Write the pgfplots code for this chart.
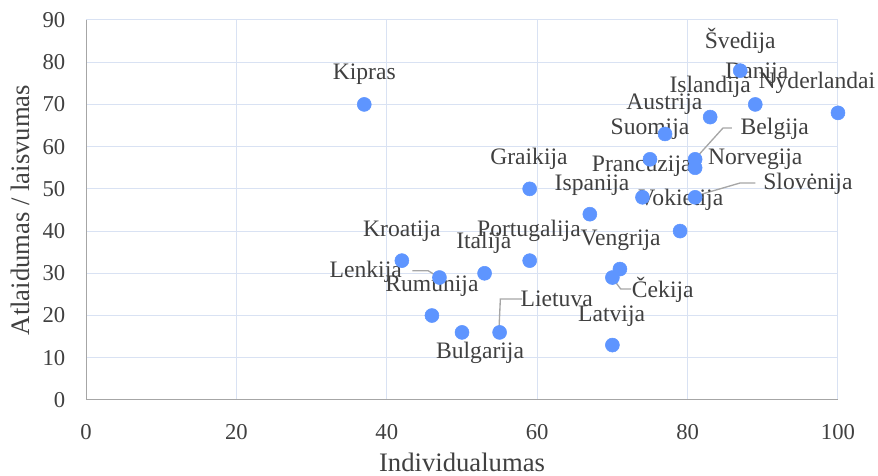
\documentclass[border=0pt]{standalone}
\usepackage{pgfplots}
\pgfplotsset{compat=1.18}
\usepackage{fontspec}
\setmainfont{Liberation Serif}
\definecolor{pt}{HTML}{5E95FF}
\definecolor{gridc}{HTML}{D9E2F3}
\definecolor{txt}{HTML}{404040}
\definecolor{lead}{HTML}{A6A6A6}
\begin{document}
\begin{tikzpicture}
\begin{axis}[
  scale only axis, width=564pt, height=285pt,
  xmin=0, xmax=100, ymin=0, ymax=90,
  xtick={0,20,...,100}, ytick={0,10,...,90},
  grid=major, major grid style={draw=gridc, line width=0.75pt},
  axis line style={draw=none},
  major tick length=0pt,
  tick label style={font=\fontsize{17}{17}\selectfont, text=txt},
  /pgf/number format/assume math mode=true,
  xticklabel style={yshift=-15pt},
  yticklabel style={xshift=-12pt},
  xlabel={Individualumas},
  ylabel={Atlaidumas / laisvumas},
  label style={font=\fontsize{20}{20}\selectfont, text=txt},
  xlabel style={at={(rel axis cs:0.5,-0.164)}, anchor=center},
  ylabel style={at={(rel axis cs:-0.0878,0.5)}, anchor=center},
  clip=false,
]
\draw[color=gray!70, line width=0.75pt] (rel axis cs:0,1) -- (rel axis cs:0,0) -- (rel axis cs:1,0);
\addplot[only marks, mark=*, mark size=5.25pt, color=pt, mark options={draw=pt, fill=pt}] table {
x y
37 70
87 78
89 70
83 67
100 68
77 63
75 57
81 57
81 55
74 48
81 48
79 40
67 44
59 50
59 33
71 31
42 33
53 30
47 29
46 20
55 16
70 13
50 16
70 29
};
\draw[lead, line width=1pt] (axis cs:85.9,64.4) -- (axis cs:84.7,64.4) -- (axis cs:81,57.1);
\draw[lead, line width=1pt] (axis cs:89,51.4) -- (axis cs:87,51.4) -- (axis cs:81.6,48.6);
\draw[lead, line width=1pt] (axis cs:43.4,30.6) -- (axis cs:45.5,30.6) -- (axis cs:46.9,29.1);
\draw[lead, line width=1pt] (axis cs:58,23.9) -- (axis cs:55.1,23.9) -- (axis cs:54.9,16.1);
\draw[lead, line width=1pt] (axis cs:72.5,26.3) -- (axis cs:71.1,26.3) -- (axis cs:70,28.9);
\begin{scope}[every node/.style={font=\fontsize{17.7}{17.7}\selectfont, text=txt, inner sep=0pt}]
\node at (axis cs:37,77.2) {Kipras};
\node at (axis cs:87,85.0) {Švedija};
\node at (axis cs:89.2,77.5) {Danija};
\node at (axis cs:83,74.1) {Islandija};
\node at (axis cs:97.2,75.1) {Nyderlandai};
\node at (axis cs:76.9,70.1) {Austrija};
\node at (axis cs:75,64.2) {Suomija};
\node at (axis cs:91.6,64.2) {Belgija};
\node at (axis cs:89,57.1) {Norvegija};
\node at (axis cs:73.9,55.4) {Prancūzija};
\node at (axis cs:96,51.2) {Slovėnija};
\node at (axis cs:79.1,47.4) {Vokietija};
\node at (axis cs:67.3,50.9) {Ispanija};
\node at (axis cs:58.9,57.1) {Graikija};
\node at (axis cs:58.9,40.0) {Portugalija};
\node at (axis cs:71.1,37.9) {Vengrija};
\node at (axis cs:42,40.0) {Kroatija};
\node at (axis cs:52.9,37.2) {Italija};
\node at (axis cs:37.2,30.3) {Lenkija};
\node at (axis cs:46,27.0) {Rumunija};
\node at (axis cs:62.6,23.9) {Lietuva};
\node at (axis cs:69.9,19.9) {Latvija};
\node at (axis cs:52.4,11.1) {Bulgarija};
\node at (axis cs:76.7,26.1) {Čekija};
\end{scope}
\coordinate (bbl) at (rel axis cs:-0.1144,-0.2);
\coordinate (btr) at (rel axis cs:1.0532,1.0526);
\end{axis}
\pgfresetboundingbox
\path (bbl) rectangle (btr);
\end{tikzpicture}
\end{document}
